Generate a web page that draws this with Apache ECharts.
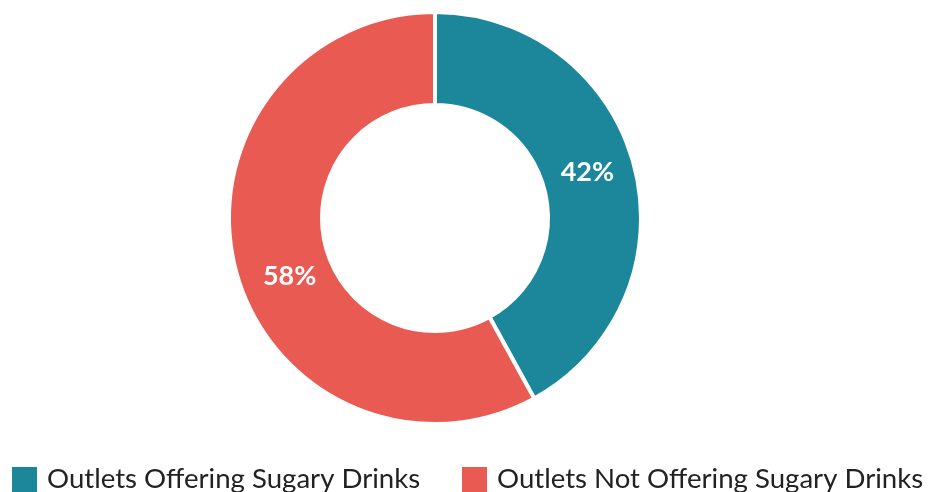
<!DOCTYPE html>
<html>
<head>
<meta charset="utf-8">
<script src="https://cdn.jsdelivr.net/npm/echarts@6/dist/echarts.min.js"></script>
<style>
  html, body { margin: 0; padding: 0; background: #fff; }
  #chart { width: 928px; height: 492px; }
</style>
</head>
<body>
<div id="chart"></div>
<script>
const categories = ['Outlets Offering Sugary Drinks', 'Outlets Not Offering Sugary Drinks'];
const values = [42, 58];
const colors = ['#1C879B', '#E85A52'];
// nudge labels to sit where the original put them
const labelOffsets = [[-5, -5], [12, 18]];
const legendLeft = [10, 460];

var myChart = echarts.init(document.getElementById('chart'));
var legendBase = {
  top: 465,
  padding: 0,
  itemWidth: 27,
  itemHeight: 27,
  icon: 'rect',
  textStyle: { fontFamily: 'Lato', fontSize: 27.6, lineHeight: 27, color: '#222', padding: [0, 0, 0, 4] }
};
var option = {
  color: colors,
  legend: categories.map((name, i) => Object.assign({}, legendBase, { data: [name], left: legendLeft[i] })),
  series: [{
    type: 'pie',
    center: [435, 218],
    radius: [113, 206],
    startAngle: 90,
    clockwise: true,
    avoidLabelOverlap: false,
    itemStyle: { borderColor: '#fff', borderWidth: 4 },
    label: {
      show: true,
      position: 'inside',
      formatter: '{c}%',
      color: '#fff',
      fontFamily: 'Lato',
      fontWeight: 'bold',
      fontSize: 27
    },
    labelLine: { show: false },
    emphasis: { disabled: true },
    data: categories.map((name, i) => ({
      name: name,
      value: values[i],
      label: { offset: labelOffsets[i] }
    }))
  }]
};
option && myChart.setOption(option);
</script>
</body>
</html>
